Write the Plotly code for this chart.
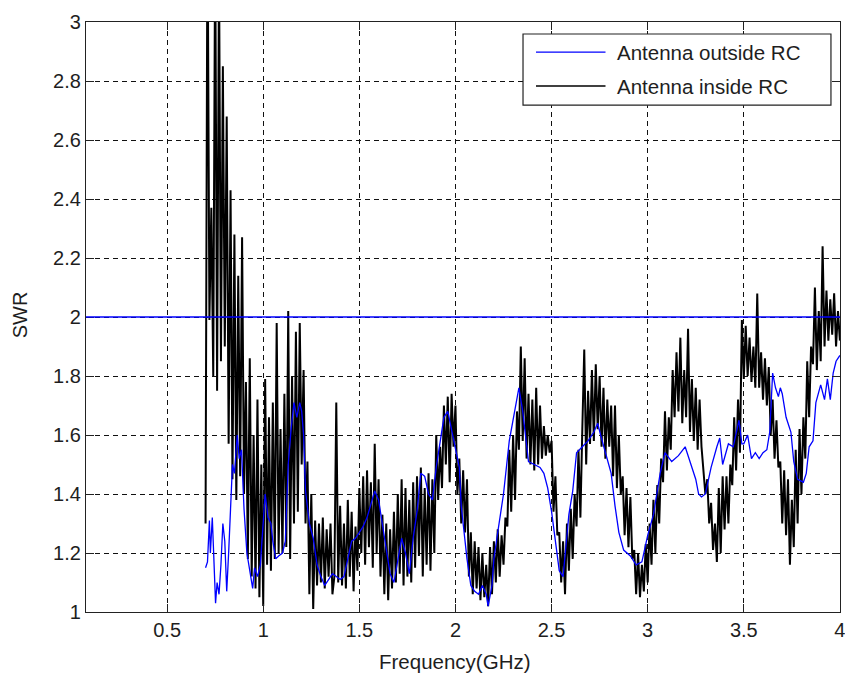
import numpy as np
import plotly.graph_objects as go

# ---- measured SWR, antenna inside the reverberation chamber (0.01 GHz sweep) ----
inside_freq = np.round(np.arange(0.70, 4.0001, 0.01), 2)
inside_swr = [
    1.30, 3.40, 1.99, 2.37, 1.80, 3.30, 1.75, 3.20, 1.85, 2.85,  # 0.70
    1.90, 2.68, 1.57, 2.43, 1.45, 2.28, 1.38, 2.14, 1.46, 2.27,  # 0.80
    1.40, 1.78, 1.18, 1.86, 1.12, 1.60, 1.08, 1.72, 1.05, 1.50,  # 0.90
    1.02, 1.79, 1.16, 1.66, 1.14, 1.71, 1.18, 1.98, 1.20, 1.62,  # 1.00
    1.20, 1.74, 1.22, 2.02, 1.18, 1.80, 1.30, 1.95, 1.34, 1.98,  # 1.10
    1.50, 1.82, 1.30, 1.51, 1.06, 1.40, 1.01, 1.31, 1.09, 1.30,  # 1.20
    1.10, 1.32, 1.08, 1.28, 1.12, 1.30, 1.06, 1.12, 1.71, 1.10,  # 1.30
    1.36, 1.09, 1.30, 1.08, 1.38, 1.12, 1.34, 1.07, 1.29, 1.14,  # 1.40
    1.42, 1.20, 1.46, 1.16, 1.48, 1.22, 1.44, 1.15, 1.57, 1.20,  # 1.50
    1.45, 1.12, 1.33, 1.06, 1.30, 1.04, 1.28, 1.08, 1.34, 1.10,  # 1.60
    1.40, 1.13, 1.45, 1.09, 1.42, 1.12, 1.38, 1.10, 1.44, 1.15,  # 1.70
    1.46, 1.19, 1.49, 1.12, 1.42, 1.16, 1.47, 1.14, 1.45, 1.20,  # 1.80
    1.60, 1.38, 1.56, 1.42, 1.70, 1.50, 1.73, 1.44, 1.74, 1.56,  # 1.90
    1.70, 1.40, 1.52, 1.30, 1.48, 1.27, 1.45, 1.12, 1.27, 1.06,  # 2.00
    1.24, 1.08, 1.22, 1.04, 1.20, 1.05, 1.16, 1.02, 1.22, 1.06,  # 2.10
    1.24, 1.10, 1.28, 1.12, 1.26, 1.16, 1.32, 1.29, 1.55, 1.34,  # 2.20
    1.60, 1.38, 1.68, 1.55, 1.90, 1.58, 1.86, 1.52, 1.74, 1.50,  # 2.30
    1.72, 1.48, 1.76, 1.50, 1.70, 1.52, 1.63, 1.53, 1.60, 1.54,  # 2.40
    1.58, 1.34, 1.46, 1.26, 1.27, 1.10, 1.24, 1.06, 1.30, 1.14,  # 2.50
    1.35, 1.18, 1.40, 1.29, 1.55, 1.32, 1.62, 1.89, 1.50, 1.75,  # 2.60
    1.57, 1.82, 1.58, 1.84, 1.62, 1.80, 1.56, 1.76, 1.52, 1.72,  # 2.70
    1.56, 1.70, 1.46, 1.70, 1.42, 1.60, 1.40, 1.46, 1.26, 1.42,  # 2.80
    1.22, 1.39, 1.18, 1.21, 1.06, 1.20, 1.05, 1.16, 1.07, 1.23,  # 2.90
    1.10, 1.30, 1.16, 1.38, 1.20, 1.43, 1.30, 1.52, 1.44, 1.68,  # 3.00
    1.48, 1.66, 1.55, 1.82, 1.66, 1.88, 1.68, 1.93, 1.64, 1.82,  # 3.10
    1.66, 1.96, 1.61, 1.79, 1.58, 1.76, 1.55, 1.72, 1.56, 1.48,  # 3.20
    1.40, 1.45, 1.30, 1.37, 1.21, 1.30, 1.17, 1.42, 1.20, 1.46,  # 3.30
    1.28, 1.46, 1.30, 1.50, 1.43, 1.66, 1.48, 1.72, 1.54, 1.99,  # 3.40
    1.79, 1.97, 1.80, 1.93, 1.78, 1.90, 1.76, 2.08, 1.76, 1.88,  # 3.50
    1.72, 1.86, 1.70, 1.83, 1.60, 1.72, 1.52, 1.65, 1.49, 1.51,  # 3.60
    1.30, 1.48, 1.26, 1.45, 1.16, 1.38, 1.22, 1.55, 1.30, 1.62,  # 3.70
    1.40, 1.66, 1.52, 1.85, 1.66, 1.90, 1.84, 2.10, 1.82, 2.02,  # 3.80
    1.85, 2.24, 1.90, 2.09, 1.92, 2.06, 1.94, 2.08, 1.90, 2.02,  # 3.90
    1.92,                                                        # 4.00
]

# ---- measured SWR, antenna outside the chamber ----
outside_freq = [
    0.70, 0.71, 0.72, 0.725, 0.735, 0.745, 0.752, 0.76, 0.77, 0.78,
    0.79, 0.80, 0.81, 0.82, 0.83, 0.84, 0.85, 0.865, 0.875, 0.887,
    0.90, 0.915, 0.93, 0.945, 0.955, 0.97, 0.985, 1.00, 1.01, 1.025,
    1.04, 1.05, 1.065, 1.08, 1.10, 1.115, 1.13, 1.145, 1.16, 1.175,
    1.19, 1.20, 1.21, 1.22, 1.24, 1.26, 1.28, 1.30, 1.32, 1.34,
    1.36, 1.38, 1.40, 1.42, 1.44, 1.46, 1.48, 1.50, 1.52, 1.54,
    1.56, 1.58, 1.60, 1.62, 1.64, 1.66, 1.68, 1.70, 1.72, 1.74,
    1.76, 1.78, 1.80, 1.82, 1.84, 1.86, 1.88, 1.90, 1.92, 1.94,
    1.96, 1.98, 2.00, 2.02, 2.03, 2.05, 2.06, 2.08, 2.10, 2.12,
    2.14, 2.16, 2.17, 2.19, 2.20, 2.22, 2.25, 2.28, 2.30, 2.33,
    2.35, 2.37, 2.38, 2.41, 2.44, 2.46, 2.48, 2.50, 2.52, 2.54,
    2.56, 2.57, 2.59, 2.61, 2.63, 2.66, 2.69, 2.72, 2.74, 2.755,
    2.78, 2.81, 2.83, 2.85, 2.875, 2.91, 2.94, 2.97, 3.00, 3.03,
    3.065, 3.09, 3.125, 3.16, 3.195, 3.22, 3.25, 3.265, 3.28, 3.30,
    3.31, 3.33, 3.36, 3.375, 3.39, 3.42, 3.445, 3.46, 3.475, 3.49,
    3.50, 3.52, 3.54, 3.56, 3.58, 3.60, 3.62, 3.635, 3.65, 3.665,
    3.68, 3.69, 3.70, 3.72, 3.745, 3.76, 3.78, 3.81, 3.825, 3.84,
    3.86, 3.875, 3.90, 3.92, 3.935, 3.95, 3.965, 3.98, 4.00,
]
outside_swr = [
    1.15, 1.17, 1.31, 1.20, 1.32, 1.12, 1.03, 1.10, 1.06, 1.16,
    1.30, 1.24, 1.07, 1.20, 1.36, 1.50, 1.47, 1.60, 1.52, 1.55,
    1.35, 1.20, 1.14, 1.08, 1.15, 1.12, 1.16, 1.30, 1.40, 1.32,
    1.30, 1.24, 1.18, 1.19, 1.20, 1.24, 1.50, 1.62, 1.71, 1.66,
    1.71, 1.68, 1.60, 1.41, 1.30, 1.25, 1.16, 1.12, 1.09, 1.11,
    1.13, 1.12, 1.11, 1.12, 1.18, 1.24, 1.25, 1.27, 1.29, 1.32,
    1.37, 1.41, 1.38, 1.30, 1.22, 1.13, 1.10, 1.18, 1.25, 1.20,
    1.13, 1.25, 1.34, 1.47, 1.46, 1.40, 1.38, 1.49, 1.58, 1.66,
    1.68, 1.62, 1.56, 1.49, 1.36, 1.24, 1.18, 1.09, 1.07, 1.06,
    1.09, 1.06, 1.02, 1.09, 1.18, 1.27, 1.40, 1.58, 1.65, 1.76,
    1.68, 1.56, 1.51, 1.50, 1.49, 1.47, 1.42, 1.34, 1.23, 1.14,
    1.12, 1.20, 1.33, 1.41, 1.54, 1.56, 1.58, 1.61, 1.64, 1.60,
    1.54, 1.47, 1.36, 1.27, 1.21, 1.19, 1.16, 1.17, 1.26, 1.33,
    1.47, 1.54, 1.51, 1.53, 1.56, 1.51, 1.45, 1.40, 1.39, 1.40,
    1.43, 1.49, 1.56, 1.59, 1.50, 1.57, 1.56, 1.60, 1.65, 1.57,
    1.57, 1.60, 1.52, 1.54, 1.52, 1.54, 1.55, 1.61, 1.81, 1.76,
    1.73, 1.76, 1.74, 1.66, 1.61, 1.51, 1.45, 1.44, 1.47, 1.56,
    1.58, 1.71, 1.77, 1.72, 1.79, 1.72, 1.81, 1.85, 1.87,
]

swr_limit = 2.0
legend_labels = ["Antenna outside RC", "Antenna inside RC"]
x_tick_vals = [0.5, 1, 1.5, 2, 2.5, 3, 3.5, 4]
x_tick_text = ["0.5", "1", "1.5", "2", "2.5", "3", "3.5", "4"]
y_tick_vals = [1, 1.2, 1.4, 1.6, 1.8, 2, 2.2, 2.4, 2.6, 2.8, 3]
y_tick_text = ["1", "1.2", "1.4", "1.6", "1.8", "2", "2.2", "2.4", "2.6", "2.8", "3"]

FONT = "Liberation Sans, Arial, sans-serif"
TEXT_COLOR = "#1e1e1e"
BLUE = "#0000ff"
BLACK = "#000000"

fig = go.Figure()
fig.add_trace(go.Scatter(
    x=inside_freq, y=inside_swr, mode="lines", name=legend_labels[1],
    line=dict(color=BLACK, width=2.0), showlegend=False,
))
fig.add_trace(go.Scatter(
    x=outside_freq, y=outside_swr, mode="lines", name=legend_labels[0],
    line=dict(color=BLUE, width=1.3), showlegend=False,
))

# SWR = 2 reference level across the whole axis
fig.add_hline(y=swr_limit, line=dict(color=BLUE, width=1.5), layer="above")

axis_common = dict(
    showline=True, linecolor="#222", linewidth=1.2, mirror="ticks",
    ticks="inside", ticklen=8, tickcolor="#222", tickwidth=1,
    showgrid=True, gridcolor="#111", gridwidth=1.2, griddash="5px,4px",
    zeroline=False, tickfont=dict(family=FONT, size=20, color=TEXT_COLOR),
    tickmode="array", ticklabeloverflow="allow", automargin=False,
)
fig.update_xaxes(range=[0.078, 4.0005], tickvals=x_tick_vals, ticktext=x_tick_text, **axis_common)
fig.update_yaxes(range=[1, 3], tickvals=y_tick_vals, ticktext=y_tick_text, **axis_common)

# legend box drawn in paper coordinates
box = dict(x0=0.5796, x1=0.988, y0=0.859, y1=0.9797)
fig.add_shape(type="rect", xref="paper", yref="paper", **box,
              line=dict(color="#222", width=1.2), fillcolor="white", layer="above")
legend_rows = [(0.949, BLUE, legend_labels[0]), (0.8915, BLACK, legend_labels[1])]
for y_row, colr, label in legend_rows:
    fig.add_shape(type="line", xref="paper", yref="paper", x0=0.5968, x1=0.689,
                  y0=y_row, y1=y_row, line=dict(color=colr, width=1.3), layer="above")
    fig.add_annotation(x=0.7016, y=y_row, xref="paper", yref="paper", text=label,
                       showarrow=False, xanchor="left", yanchor="middle",
                       font=dict(family=FONT, size=20.5, color=TEXT_COLOR))

# axis titles
fig.add_annotation(x=0.489, y=-0.0847, xref="paper", yref="paper", text="Frequency(GHz)",
                   showarrow=False, xanchor="center", yanchor="middle",
                   font=dict(family=FONT, size=20.5, color=TEXT_COLOR))
fig.add_annotation(x=-0.0875, y=0.503, xref="paper", yref="paper", text="SWR",
                   showarrow=False, xanchor="center", yanchor="middle", textangle=-90,
                   font=dict(family=FONT, size=20, color=TEXT_COLOR))

fig.update_layout(
    width=845, height=673,
    margin=dict(l=86, r=5, t=22, b=61, autoexpand=False),
    paper_bgcolor="white", plot_bgcolor="white",
    showlegend=False,
)

fig.write_html("out.html")
